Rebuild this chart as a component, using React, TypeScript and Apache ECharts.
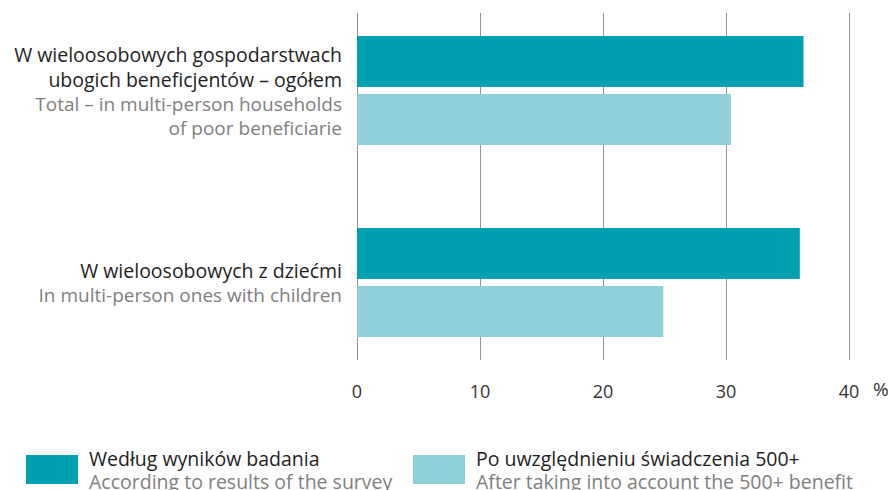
import React, { useEffect, useRef } from "react";
import * as echarts from "echarts";

const categoriesPl: string[][] = [
  ["W wieloosobowych gospodarstwach", "ubogich beneficjentów – ogółem"],
  ["W wieloosobowych z dziećmi"],
];
const categoriesEn: string[][] = [
  ["Total – in multi-person households", "of poor beneficiarie"],
  ["In multi-person ones with children"],
];
const categoryKeys = ["c0", "c1"];

const seriesSurvey = [36.3, 36.0];
const seriesAfter500 = [30.4, 24.9];

const seriesNamesPl = ["Według wyników badania", "Po uwzględnieniu świadczenia 500+"];
const seriesNamesEn = ["According to results of the survey", "After taking into account the 500+ benefit"];

const xTicks = [0, 10, 20, 30, 40];

const FONT = "Open Sans";
const DARK = "#00A0B0";
const LIGHT = "#8FD1D9";

export default function App() {
  const ref = useRef<HTMLDivElement>(null);
  useEffect(() => {
    if (!ref.current) return;
    const chart = echarts.init(ref.current, undefined, { renderer: "svg" });
    const rich = {
      pl: { fontFamily: FONT, fontSize: 19.5, color: "#1e1e1e", lineHeight: 25, align: "right" },
      en: { fontFamily: FONT, fontSize: 19, color: "#808080", lineHeight: 24, align: "right" },
    };
    const legendRich = {
      pl: { fontFamily: FONT, fontSize: 19.5, color: "#1e1e1e", lineHeight: 23 },
      en: { fontFamily: FONT, fontSize: 19.5, color: "#808080", lineHeight: 23 },
    };
    const mkLegend = (i: number, left: number) => ({
      left,
      top: 448,
      padding: 0,
      orient: "horizontal",
      icon: "rect",
      itemWidth: 52,
      itemHeight: 29,
      itemGap: 10,
      data: [seriesNamesPl[i]],
      selectedMode: false,
      textStyle: { rich: legendRich, padding: [0, 0, 0, 6] },
      formatter: (name: string) => {
        const idx = seriesNamesPl.indexOf(name);
        return `{pl|${name}}\n{en|${seriesNamesEn[idx]}}`;
      },
    });
    chart.setOption({
      animation: false,
      grid: [
        { left: 357, right: 45, top: 90.5, bottom: 207.5, containLabel: false },
        { left: 357, right: 45, top: 13, bottom: 130, containLabel: false },
      ],
      xAxis: [
        {
          gridIndex: 0,
          type: "value",
          min: 0,
          max: 40,
          interval: 10,
          axisLine: { show: false },
          axisTick: { show: false },
          axisLabel: { show: false },
          splitLine: { show: false },
        },
        {
          gridIndex: 1,
          type: "value",
          min: 0,
          max: 40,
          interval: 10,
          axisLine: { show: false },
          axisTick: { show: false },
          axisLabel: {
            show: true,
            margin: 22,
            fontFamily: FONT,
            fontSize: 18,
            color: "#333333",
            formatter: (v: number) => (xTicks.includes(v) ? String(v) : ""),
          },
          splitLine: { show: true, lineStyle: { color: "#949494", width: 1 } },
        },
      ],
      yAxis: [
        {
          gridIndex: 0,
          type: "category",
          inverse: true,
          boundaryGap: false,
          data: categoryKeys,
          axisLine: { show: false },
          axisTick: { show: false },
          splitLine: { show: false },
          axisLabel: {
            margin: 15,
            align: "right",
            rich,
            formatter: (_v: string, idx: number) => {
              const pl = categoriesPl[idx].map((s) => `{pl|${s}}`);
              const en = categoriesEn[idx].map((s) => `{en|${s}}`);
              return [...pl, ...en].join("\n");
            },
          },
        },
        {
          gridIndex: 1,
          type: "value",
          min: 0,
          max: 1,
          show: false,
        },
      ],
      legend: [mkLegend(0, 26), mkLegend(1, 413)],
      series: [
        {
          name: seriesNamesPl[0],
          type: "bar",
          xAxisIndex: 0,
          yAxisIndex: 0,
          data: seriesSurvey,
          barWidth: 51,
          barGap: "14%",
          itemStyle: { color: DARK },
        },
        {
          name: seriesNamesPl[1],
          type: "bar",
          xAxisIndex: 0,
          yAxisIndex: 0,
          data: seriesAfter500,
          barWidth: 51,
          barGap: "14%",
          itemStyle: { color: LIGHT },
        },
      ],
      graphic: [
        {
          type: "text",
          left: 873,
          top: 379,
          style: { text: "%", fontFamily: FONT, fontSize: 19, fill: "#333333" },
        },
      ],
    });
    return () => chart.dispose();
  }, []);
  return (
    <div
      ref={ref}
      style={{ position: "absolute", left: 0, top: 0, width: 894, height: 490 }}
    />
  );
}
